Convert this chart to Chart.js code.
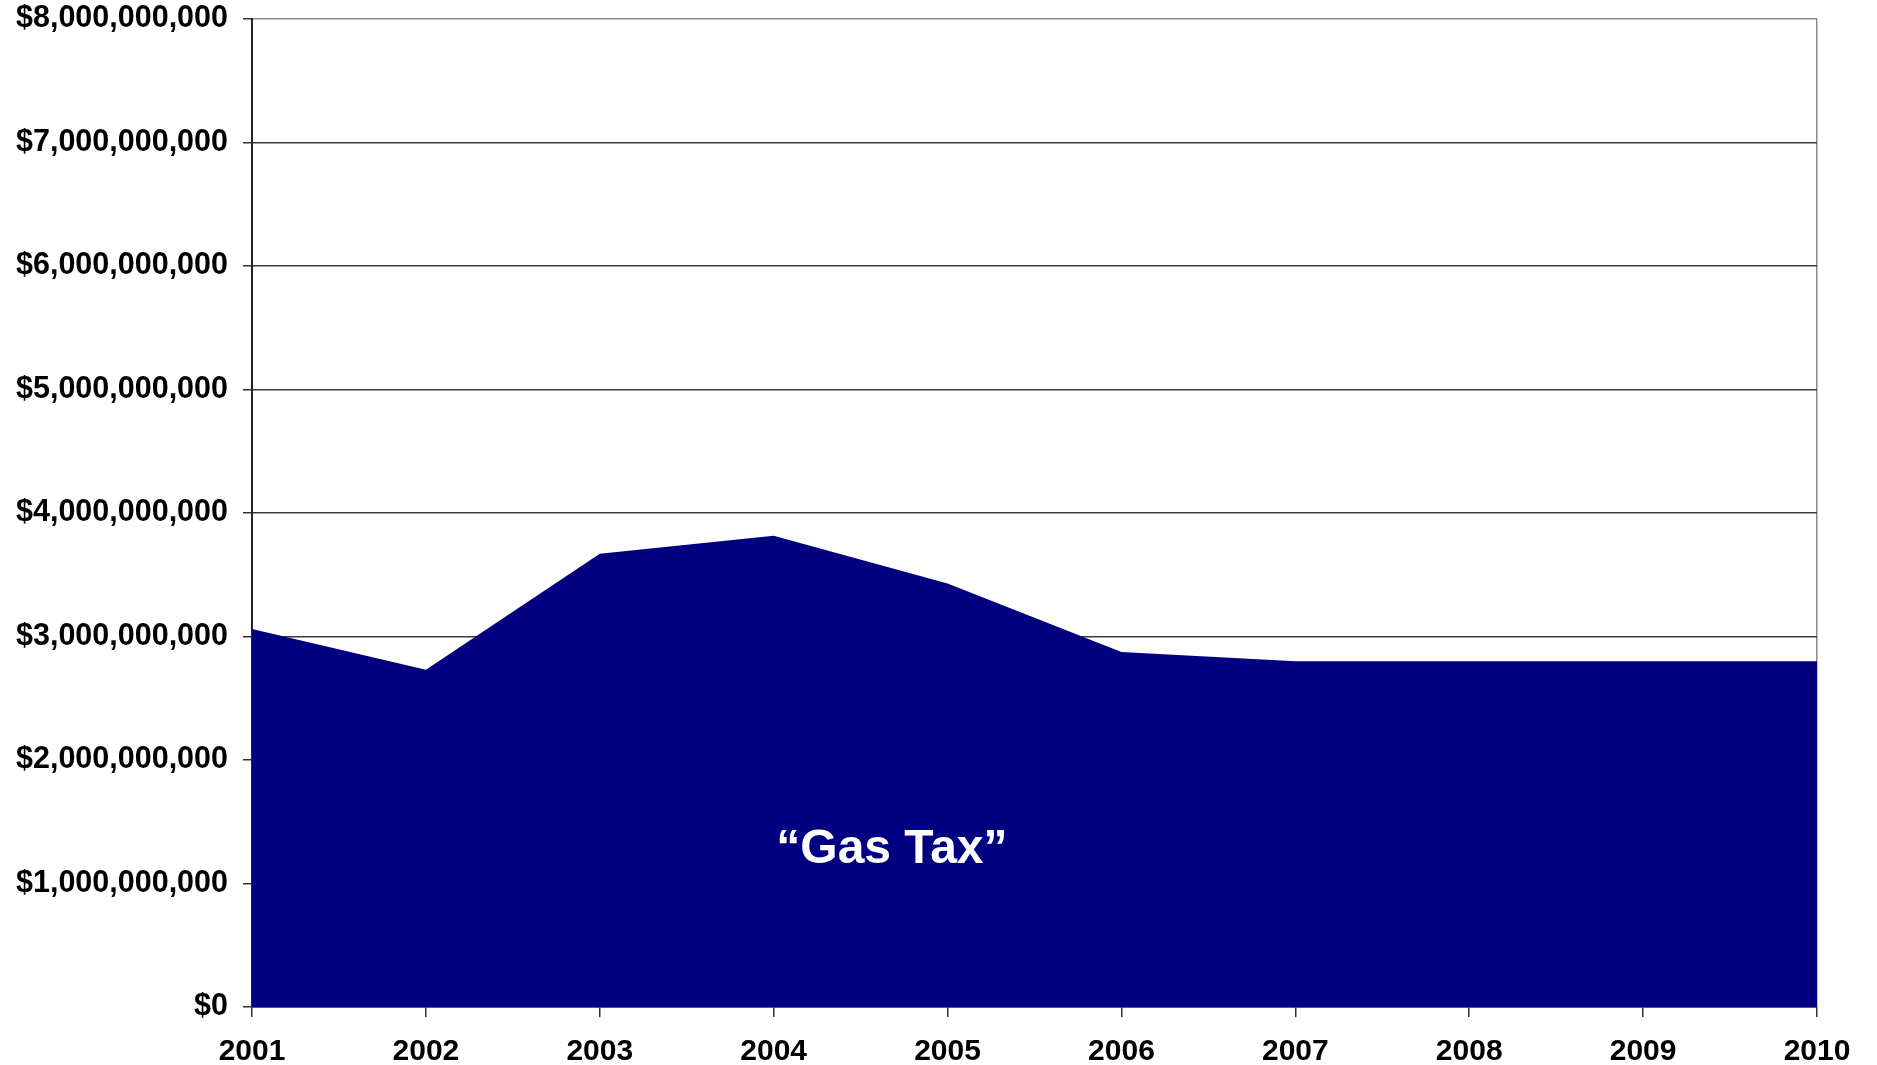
<!DOCTYPE html>
<html>
<head>
<meta charset="utf-8">
<title>Gas Tax Revenue 2001–2010</title>
<script src="https://cdn.jsdelivr.net/npm/chart.js@4.4.1/dist/chart.umd.min.js"></script>
<style>
  html, body { margin: 0; padding: 0; background: #ffffff; }
  #wrap { width: 1877px; height: 1065px; position: relative; }
</style>
</head>
<body>
<div id="wrap"><canvas id="chart" width="1877" height="1065"></canvas></div>
<script>
// Fiscal years on the horizontal axis
const years = ['2001', '2002', '2003', '2004', '2005', '2006', '2007', '2008', '2009', '2010'];
// Gas tax revenue per year, in dollars
const gasTax = [3.06e9, 2.73e9, 3.67e9, 3.815e9, 3.43e9, 2.875e9, 2.80e9, 2.80e9, 2.80e9, 2.80e9];
// Vertical axis range and step
const yMin = 0;
const yMax = 8e9;
const yStep = 1e9;
// Text drawn inside the filled area
const areaLabel = '\u201CGas Tax\u201D';

const NAVY = '#000080';
const FONT = '"Liberation Sans", Arial, Helvetica, sans-serif';

// Writes the series name inside the filled area
const areaLabelPlugin = {
  id: 'areaLabel',
  afterDatasetsDraw(chart) {
    const { ctx, scales } = chart;
    const x = scales.x.getPixelForValue(3.68);
    const y = scales.y.getPixelForValue(1.27e9);
    ctx.save();
    ctx.fillStyle = '#ffffff';
    ctx.font = 'bold 48px ' + FONT;
    ctx.textAlign = 'center';
    ctx.textBaseline = 'middle';
    ctx.fillText(areaLabel, x, y);
    ctx.restore();
  }
};

new Chart(document.getElementById('chart'), {
  type: 'line',
  data: {
    labels: years,
    datasets: [{
      label: 'Gas Tax',
      data: gasTax,
      fill: 'origin',
      backgroundColor: NAVY,
      borderColor: NAVY,
      borderWidth: 0,
      pointRadius: 0,
      tension: 0
    }]
  },
  options: {
    responsive: false,
    animation: false,
    layout: { padding: { top: 19, right: 60, bottom: 0, left: 0 } },
    plugins: {
      legend: { display: false },
      tooltip: { enabled: false }
    },
    scales: {
      x: {
        type: 'category',
        offset: false,
        border: { display: true, color: '#222222', width: 1.5 },
        grid: {
          display: true,
          drawOnChartArea: true,
          color: (c) => (c.index === years.length - 1 ? '#8a8a8a' : 'rgba(0,0,0,0)'),
          lineWidth: 1.5,
          tickLength: 10,
          tickColor: '#333333',
          tickWidth: 1.5
        },
        ticks: {
          color: '#000000',
          font: { family: FONT, size: 30, weight: 'bold' },
          padding: 17,
          maxRotation: 0,
          autoSkip: false
        },
        afterFit(scale) { scale.height = 58; }
      },
      y: {
        min: yMin,
        max: yMax,
        border: { display: true, color: '#222222', width: 2 },
        grid: {
          color: (c) => (c.tick && c.tick.value === yMax ? '#8a8a8a' : '#3a3a3a'),
          lineWidth: 1.5,
          tickLength: 9,
          tickColor: '#333333',
          tickWidth: 1.5
        },
        ticks: {
          stepSize: yStep,
          color: '#000000',
          font: { family: FONT, size: 30.5, weight: 'bold' },
          padding: 15,
          callback: (v) => '$' + Number(v).toLocaleString('en-US')
        },
        afterFit(scale) {
          scale.width = 252;
          scale.paddingTop = 0;
          scale.paddingBottom = 0;
        }
      }
    }
  },
  plugins: [areaLabelPlugin]
});
</script>
</body>
</html>
